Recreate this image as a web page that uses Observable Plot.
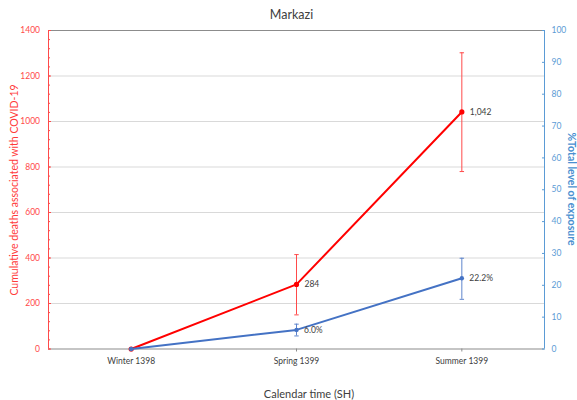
<!DOCTYPE html>
<html>
<head>
<meta charset="utf-8">
<script src="https://cdn.jsdelivr.net/npm/d3@7"></script>
<script src="https://cdn.jsdelivr.net/npm/@observablehq/plot@0.6"></script>
<style>
  html, body { margin: 0; padding: 0; background: #fff; }
  #wrap { position: relative; width: 577px; height: 400px; font-family: Lato, "Open Sans", sans-serif; }
  #wrap svg { position: absolute; left: 0; top: 0; }
  .lbl { position: absolute; white-space: nowrap; }
</style>
</head>
<body>
<div id="wrap">
  <div class="lbl" id="title" style="left:0;width:583px;top:7px;text-align:center;font-size:12.5px;color:#404040;">Markazi</div>
  <div class="lbl" id="ylab" style="left:14px;top:190px;transform:translate(-50%,-50%) rotate(-90deg);font-size:10.5px;color:#ff3b3b;">Cumulative deaths associated with COVID-19</div>
  <div class="lbl" id="y2lab" style="left:572px;top:189px;transform:translate(-50%,-50%) rotate(90deg);font-size:10.5px;font-weight:bold;color:#4a8fd0;">%Total level of exposure</div>
  <div class="lbl" id="xlab" style="left:309px;top:393px;transform:translate(-50%,-50%);font-size:11px;color:#404040;">Calendar time (SH)</div>
</div>
<script>
// ---- data ----
const categories = ["Winter 1398", "Spring 1399", "Summer 1399"];
const deaths = [0, 284, 1042];
const deathsLow = [null, 150, 780];
const deathsHigh = [null, 415, 1302];
const deathLabels = ["", "284", "1,042"];
const exposure = [0, 6.0, 22.2];
const exposureLow = [null, 4.1, 15.6];
const exposureHigh = [null, 7.8, 28.5];
const exposureLabels = ["", "6.0%", "22.2%"];
const leftTicks = [0, 200, 400, 600, 800, 1000, 1200, 1400];
const leftGrid = [200, 400, 600, 800, 1000, 1200];
const leftMinorTicks = [0, 40, 80, 120, 160, 200, 240, 280, 320, 360, 400, 440, 480, 520, 560, 600, 640, 680, 720, 760, 800, 840, 880, 920, 960, 1000, 1040, 1080, 1120, 1160, 1200, 1240, 1280, 1320, 1360, 1400];
const rightTicks = [0, 10, 20, 30, 40, 50, 60, 70, 80, 90, 100];

const idx = categories.map((_, i) => i);
const errIdx = idx.filter(i => deathsLow[i] != null);
const errIdx2 = idx.filter(i => exposureLow[i] != null);

const cap = { draw(ctx, size) { const w = Math.sqrt(size) / 2; ctx.moveTo(-w, 0); ctx.lineTo(w, 0); } };

const common = {
  width: 577, height: 400,
  marginLeft: 48, marginRight: 33, marginTop: 30, marginBottom: 51.5,
  style: { background: "transparent", fontFamily: "Lato, 'Open Sans', sans-serif", overflow: "visible" }
};

const RED = "#ff0000";
const RED_LIGHT = "#ff4a4a";
const BLUE = "#4472c4";
const BLUE_ERR = "#5f85cc";
const BLUE_AXIS = "#5b9bd5";

const left = Plot.plot({
  ...common,
  x: { type: "linear", domain: [-0.5, 2.5] },
  y: { domain: [0, 1400] },
  marks: [
    Plot.gridY(leftGrid, { stroke: "#d9d9d9", strokeOpacity: 1 }),
    Plot.ruleY([1400], { stroke: "#8c8c8c" }),
    Plot.ruleY([0], { stroke: "#8c8c8c", strokeWidth: 1.2 }),
    Plot.ruleX([-0.5], { stroke: RED_LIGHT }),
    Plot.axisY(leftMinorTicks, { anchor: "left", tickSize: -2, text: null, stroke: RED_LIGHT }),
    Plot.axisY(leftTicks, { anchor: "left", tickSize: -3, tickPadding: 11.5, tickFormat: d => String(d), stroke: RED_LIGHT, fill: RED_LIGHT, fontSize: 8.5, label: null }),
    Plot.axisX(idx, { anchor: "bottom", tickFormat: i => categories[i], tickSize: 3, tickPadding: 6, stroke: "#8c8c8c", fill: "#404040", fontSize: 8.5, label: null }),
    Plot.ruleX(errIdx, { x: i => i, y1: i => deathsLow[i], y2: i => deathsHigh[i], stroke: RED_LIGHT, strokeWidth: 1 }),
    Plot.dot(errIdx, { x: i => i, y: i => deathsLow[i], symbol: cap, r: 2.5, stroke: RED_LIGHT, strokeWidth: 1 }),
    Plot.dot(errIdx, { x: i => i, y: i => deathsHigh[i], symbol: cap, r: 2.5, stroke: RED_LIGHT, strokeWidth: 1 }),
    Plot.line(idx, { x: i => i, y: i => deaths[i], stroke: RED, strokeWidth: 2 }),
    Plot.dot(idx, { x: i => i, y: i => deaths[i], r: 2.6, fill: RED }),
    Plot.text(idx, { x: i => i, y: i => deaths[i], text: i => deathLabels[i], dx: 8, textAnchor: "start", fill: "#404040", fontSize: 8.5 })
  ]
});

const right = Plot.plot({
  ...common,
  x: { type: "linear", domain: [-0.5, 2.5], axis: null },
  y: { domain: [0, 100] },
  marks: [
    Plot.ruleX([2.5], { stroke: BLUE_AXIS }),
    Plot.axisY(rightTicks, { anchor: "right", tickSize: -3, tickPadding: 10, stroke: BLUE_AXIS, fill: BLUE_AXIS, fontSize: 8.5, label: null }),
    Plot.ruleX(errIdx2, { x: i => i, y1: i => exposureLow[i], y2: i => exposureHigh[i], stroke: BLUE_ERR, strokeWidth: 1 }),
    Plot.dot(errIdx2, { x: i => i, y: i => exposureLow[i], symbol: cap, r: 2.5, stroke: BLUE_ERR, strokeWidth: 1 }),
    Plot.dot(errIdx2, { x: i => i, y: i => exposureHigh[i], symbol: cap, r: 2.5, stroke: BLUE_ERR, strokeWidth: 1 }),
    Plot.line(idx, { x: i => i, y: i => exposure[i], stroke: BLUE, strokeWidth: 2 }),
    Plot.dot(idx, { x: i => i, y: i => exposure[i], r: 2.2, fill: BLUE }),
    Plot.text(idx, { x: i => i, y: i => exposure[i], text: i => exposureLabels[i], dx: 7.5, textAnchor: "start", fill: "#404040", fontSize: 8.5 })
  ]
});

const wrap = document.getElementById("wrap");
wrap.insertBefore(right, wrap.firstChild);
wrap.insertBefore(left, wrap.firstChild);
</script>
</body>
</html>
